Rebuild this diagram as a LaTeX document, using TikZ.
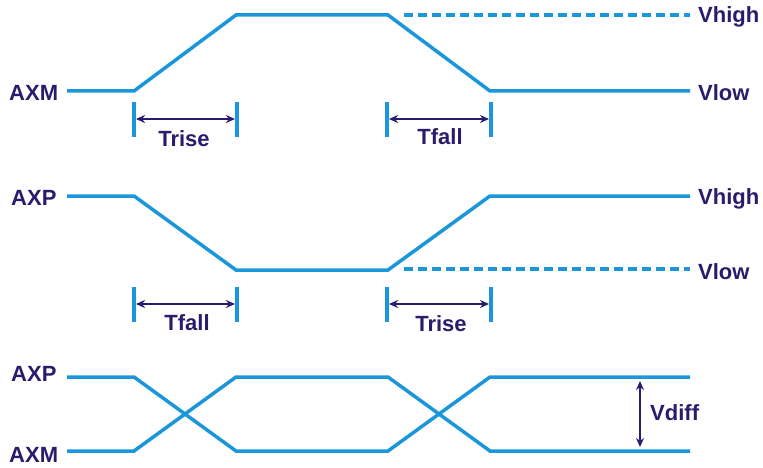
\documentclass[tikz,border=0pt]{standalone}
\usepackage{fontspec}
\setmainfont{Liberation Sans}
\usetikzlibrary{arrows.meta}
\definecolor{sig}{RGB}{27,150,218}
\definecolor{navy}{RGB}{43,27,108}
\tikzset{
  wave/.style={draw=sig, line width=3.5pt, line join=miter},
  dashwave/.style={draw=sig, line width=3.5pt, dash pattern=on 9pt off 5pt},
  tick/.style={draw=sig, line width=3.5pt},
  dim/.style={draw=navy, line width=2pt, {Stealth[length=9pt,width=8pt]}-{Stealth[length=9pt,width=8pt]}},
  lbl/.style={text=navy, font=\fontsize{22}{22}\selectfont\bfseries, inner sep=0pt},
}
\begin{document}
\begin{tikzpicture}[x=1pt,y=-1pt]
\useasboundingbox (0,0) rectangle (763,468);
% ---------- top: AXM ----------
\coordinate (a0) at (67,91);
\coordinate (a1) at (134,91);
\coordinate (a2) at (236,15);
\coordinate (a3) at (388,15);
\coordinate (a4) at (490,91);
\coordinate (a5) at (690,91);
\draw[wave] (a0) -- (a1) -- (a2) -- (a3) -- (a4) -- (a5);
\coordinate (ad0) at (404,15);
\coordinate (ad1) at (690,15);
\draw[dashwave] (ad0) -- (ad1);
\node[lbl, anchor=west] (axm1) at (9,93) {AXM};
\node[lbl, anchor=west] (vh1) at (698,17) {Vhigh};
\node[lbl, anchor=west] (vl1) at (698,93) {Vlow};
% ticks top
\coordinate (t1a) at (134,102); \coordinate (t1b) at (134,137);
\coordinate (t2a) at (237,102); \coordinate (t2b) at (237,137);
\coordinate (t3a) at (387,102); \coordinate (t3b) at (387,137);
\coordinate (t4a) at (491,102); \coordinate (t4b) at (491,137);
\draw[tick] (t1a) -- (t1b); \draw[tick] (t2a) -- (t2b);
\draw[tick] (t3a) -- (t3b); \draw[tick] (t4a) -- (t4b);
\coordinate (d1a) at (136,119); \coordinate (d1b) at (235,119);
\coordinate (d2a) at (389,119); \coordinate (d2b) at (489,119);
\draw[dim] (d1a) -- (d1b);
\draw[dim] (d2a) -- (d2b);
\node[lbl] (trise1) at (184,139) {Trise};
\node[lbl] (tfall1) at (440,137) {Tfall};
% ---------- middle: AXP ----------
\coordinate (b0) at (67,196);
\coordinate (b1) at (134,196);
\coordinate (b2) at (236,270);
\coordinate (b3) at (388,270);
\coordinate (b4) at (490,196);
\coordinate (b5) at (690,196);
\draw[wave] (b0) -- (b1) -- (b2) -- (b3) -- (b4) -- (b5);
\coordinate (bd0) at (404,269);
\coordinate (bd1) at (690,269);
\draw[dashwave] (bd0) -- (bd1);
\node[lbl, anchor=west] (axp1) at (11,198) {AXP};
\node[lbl, anchor=west] (vh2) at (698,199) {Vhigh};
\node[lbl, anchor=west] (vl2) at (698,272) {Vlow};
\coordinate (s1a) at (134,287); \coordinate (s1b) at (134,322);
\coordinate (s2a) at (237,287); \coordinate (s2b) at (237,322);
\coordinate (s3a) at (387,287); \coordinate (s3b) at (387,322);
\coordinate (s4a) at (491,287); \coordinate (s4b) at (491,322);
\draw[tick] (s1a) -- (s1b); \draw[tick] (s2a) -- (s2b);
\draw[tick] (s3a) -- (s3b); \draw[tick] (s4a) -- (s4b);
\coordinate (e1a) at (136,304); \coordinate (e1b) at (235,304);
\coordinate (e2a) at (389,304); \coordinate (e2b) at (489,304);
\draw[dim] (e1a) -- (e1b);
\draw[dim] (e2a) -- (e2b);
\node[lbl] (tfall2) at (187,323) {Tfall};
\node[lbl] (trise2) at (441,324) {Trise};
% ---------- bottom: differential ----------
\coordinate (c0) at (67,377);
\coordinate (c1) at (134,377);
\coordinate (c2) at (236,451);
\coordinate (c3) at (388,451);
\coordinate (c4) at (490,377);
\coordinate (c5) at (690,377);
\draw[wave] (c0) -- (c1) -- (c2) -- (c3) -- (c4) -- (c5);
\coordinate (f0) at (67,451);
\coordinate (f1) at (134,451);
\coordinate (f2) at (236,377);
\coordinate (f3) at (388,377);
\coordinate (f4) at (490,451);
\coordinate (f5) at (690,451);
\draw[wave] (f0) -- (f1) -- (f2) -- (f3) -- (f4) -- (f5);
\node[lbl, anchor=west] (axp2) at (11,374) {AXP};
\node[lbl, anchor=west] (axm2) at (9,455) {AXM};
\coordinate (vd0) at (640,381);
\coordinate (vd1) at (640,447);
\draw[dim] (vd0) -- (vd1);
\node[lbl, anchor=west] (vdiff) at (650,413) {Vdiff};
\end{tikzpicture}
\end{document}
